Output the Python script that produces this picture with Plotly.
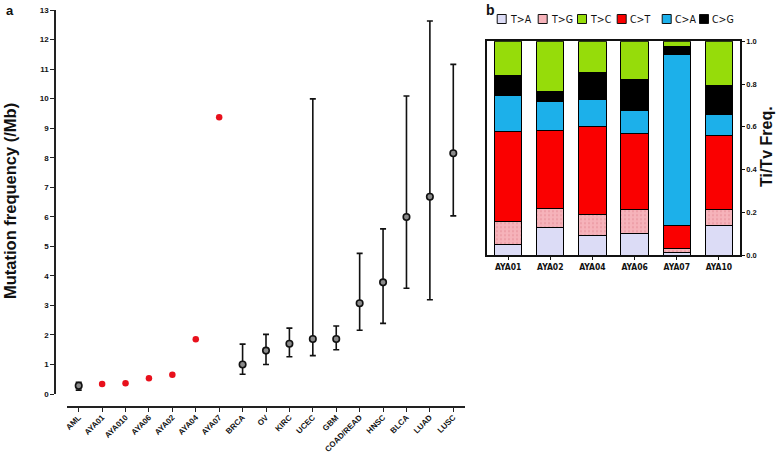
import plotly.graph_objects as go

# ---------------- Panel a data ----------------
categories = ["AML", "AYA01", "AYA010", "AYA06", "AYA02", "AYA04", "AYA07",
              "BRCA", "OV", "KIRC", "UCEC", "GBM", "COAD/READ", "HNSC",
              "BLCA", "LUAD", "LUSC"]
cohorts = ["AML", "BRCA", "OV", "KIRC", "UCEC", "GBM", "COAD/READ", "HNSC",
           "BLCA", "LUAD", "LUSC"]
cohort_median = [0.28, 1.00, 1.47, 1.70, 1.86, 1.86, 3.07, 3.78, 5.99, 6.68, 8.15]
cohort_low = [0.13, 0.67, 1.00, 1.26, 1.30, 1.50, 2.16, 2.39, 3.58, 3.19, 6.03]
cohort_high = [0.40, 1.69, 2.02, 2.23, 9.99, 2.30, 4.76, 5.59, 10.09, 12.63, 11.16]
aya_samples = ["AYA01", "AYA010", "AYA06", "AYA02", "AYA04", "AYA07"]
aya_freq = [0.34, 0.36, 0.53, 0.65, 1.85, 9.37]
y_ticks = list(range(0, 14))

# ---------------- Panel b data ----------------
samples_b = ["AYA01", "AYA02", "AYA04", "AYA06", "AYA07", "AYA10"]
series_names = ["T>A", "T>G", "C>T", "C>A", "C>G", "T>C"]
t_a = [0.047, 0.128, 0.089, 0.100, 0.013, 0.139]
t_g = [0.112, 0.089, 0.100, 0.115, 0.018, 0.076]
c_t = [0.420, 0.365, 0.411, 0.355, 0.108, 0.345]
c_a = [0.166, 0.136, 0.128, 0.107, 0.799, 0.097]
c_g = [0.097, 0.047, 0.125, 0.145, 0.036, 0.137]
t_c = [0.158, 0.235, 0.147, 0.178, 0.026, 0.206]
freq_ticks = [0.0, 0.2, 0.4, 0.6, 0.8, 1.0]

series_values = [t_a, t_g, c_t, c_a, c_g, t_c]
colors = {"T>A": "#dcdcf6", "T>G": "#f6b3ba", "T>C": "#96dc0a",
          "C>T": "#fa0000", "C>A": "#1cb0ea", "C>G": "#000000"}
legend_order = ["T>A", "T>G", "T>C", "C>T", "C>A", "C>G"]

W, H = 777, 454
px = lambda x: x / W
py = lambda y: 1 - y / H

BOLD = "Liberation Sans, Arial, sans-serif"
NARROW = "Liberation Sans Narrow, Arial Narrow, DejaVu Sans Condensed, Liberation Sans, sans-serif"

fig = go.Figure()

err_plus = [h - m for h, m in zip(cohort_high, cohort_median)]
err_minus = [m - l for m, l in zip(cohort_median, cohort_low)]

fig.add_trace(go.Scatter(
    x=cohorts, y=cohort_median, mode="markers",
    marker=dict(symbol="circle", size=6.5, color="#8a8a8a",
                line=dict(color="#111111", width=1.6)),
    error_y=dict(type="data", symmetric=False, array=err_plus,
                 arrayminus=err_minus, color="#111111", thickness=1.6, width=3),
    xaxis="x", yaxis="y", showlegend=False, cliponaxis=False))

fig.add_trace(go.Scatter(
    x=aya_samples, y=aya_freq, mode="markers",
    marker=dict(symbol="circle", size=6.5, color="#e8101c"),
    xaxis="x", yaxis="y", showlegend=False, cliponaxis=False))

for name, vals in zip(series_names, series_values):
    marker = dict(color=colors[name], line=dict(color="#000000", width=1))
    if name == "T>G":
        marker["pattern"] = dict(shape=".", bgcolor=colors[name],
                                 fgcolor="#e48a94", size=4, solidity=0.25)
    fig.add_trace(go.Bar(x=samples_b, y=vals, name=name, width=0.65,
                         marker=marker, xaxis="x2", yaxis="y2",
                         showlegend=False))

fig.update_layout(
    width=W, height=H,
    margin=dict(l=0, r=0, t=0, b=0),
    paper_bgcolor="white", plot_bgcolor="white",
    barmode="stack", bargap=0.35,
    showlegend=False,
    xaxis=dict(type="category", categoryorder="array", categoryarray=categories,
               range=[-0.5, 16.5], domain=[px(67), px(465)],
               anchor="free", position=py(407),
               showline=True, linecolor="#222222", linewidth=1.5,
               ticks="outside", ticklen=4, tickwidth=1.3, tickcolor="#222222",
               tickangle=-45, ticklabelstandoff=-2,
               tickfont=dict(family=BOLD, size=8, color="#111111", weight="bold"),
               showgrid=False, zeroline=False, automargin=False),
    yaxis=dict(range=[0, 13], domain=[py(394), py(10)],
               anchor="free", position=px(55),
               tickvals=y_ticks, ticks="outside", ticklen=4, tickwidth=1.3,
               tickcolor="#222222",
               tickfont=dict(family=BOLD, size=8, color="#111111", weight="bold"),
               showline=True, linecolor="#222222", linewidth=1.5,
               showgrid=False, zeroline=False, automargin=False),
    xaxis2=dict(type="category", categoryorder="array", categoryarray=samples_b,
                range=[-0.5, 5.5], domain=[px(487), px(740)], anchor="y2",
                showline=True, mirror=True, linecolor="#111111", linewidth=1.5,
                ticks="outside", ticklen=3, tickwidth=1.2, tickcolor="#111111",
                tickfont=dict(family=NARROW, size=8.5, color="#111111",
                              weight="bold"),
                showgrid=False, zeroline=False, automargin=False),
    yaxis2=dict(range=[0, 1], domain=[py(255), py(41.3)], anchor="x2",
                side="right", tickvals=freq_ticks, tickformat=".1f",
                ticks="outside", ticklen=3, tickwidth=1.2, tickcolor="#111111",
                tickfont=dict(family=BOLD, size=7.5, color="#111111", weight="bold"),
                showline=True, mirror=True, linecolor="#111111", linewidth=1.5,
                showgrid=False, zeroline=False, automargin=False),
)

annotations = [
    dict(text="<b>a</b>", x=px(4), y=py(1), xanchor="left", yanchor="top",
         font=dict(family=BOLD, size=13, color="#111111")),
    dict(text="<b>b</b>", x=px(484), y=py(0), xanchor="left", yanchor="top",
         font=dict(family=BOLD, size=14, color="#111111")),
    dict(text="<b>Mutation frequency (/Mb)</b>", x=px(10), y=py(201),
         textangle=-90, xanchor="center", yanchor="middle",
         font=dict(family=BOLD, size=16.5, color="#111111")),
    dict(text="<b>Ti/Tv Freq.</b>", x=px(767), y=py(147),
         textangle=-90, xanchor="center", yanchor="middle",
         font=dict(family=BOLD, size=16, color="#111111")),
]

# Legend drawn as boxes + labels across the top of panel b
legend_box_x = [501.7, 542.7, 582.0, 621.7, 666.7, 704.0]
shapes = []
for name, cx in zip(legend_order, legend_box_x):
    shapes.append(dict(type="rect", xref="paper", yref="paper",
                       x0=px(cx - 4.5), x1=px(cx + 4.5), y0=py(23.5), y1=py(14.5),
                       fillcolor=colors[name], line=dict(color="#111111", width=1)))
    annotations.append(dict(text=name, x=px(cx + 6), y=py(19), xanchor="left",
                            yanchor="middle", showarrow=False,
                            font=dict(family=NARROW, size=10.5, color="#111111")))

for a in annotations:
    a.setdefault("showarrow", False)
    a["xref"] = "paper"
    a["yref"] = "paper"

fig.update_layout(annotations=annotations, shapes=shapes)

fig.write_html("out.html",
               config={"displayModeBar": False},
               post_script="document.body.style.margin='0';"
                           "document.body.style.overflow='hidden';")
